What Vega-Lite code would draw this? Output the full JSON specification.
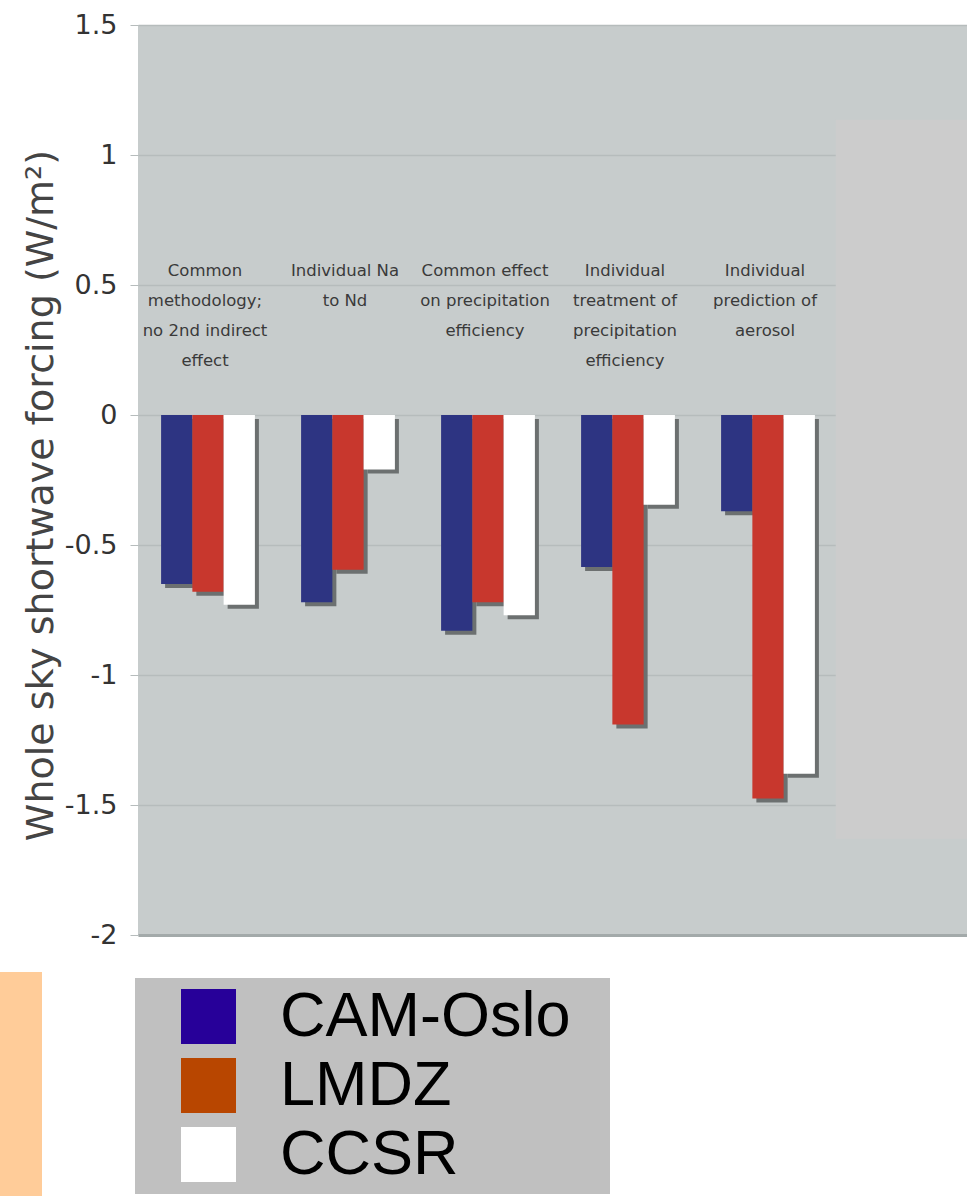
{
  "$schema": "https://vega.github.io/schema/vega-lite/v6.json",
  "width": 840,
  "height": 910,
  "autosize": "none",
  "padding": {"left": 138, "top": 25, "right": -11, "bottom": 261},
  "background": "#ffffff",
  "datasets": {
    "bars": [
      {"group": "g1", "model": "CAM-Oslo", "value": -0.65},
      {"group": "g1", "model": "LMDZ", "value": -0.68},
      {"group": "g1", "model": "CCSR", "value": -0.73},
      {"group": "g2", "model": "CAM-Oslo", "value": -0.72},
      {"group": "g2", "model": "LMDZ", "value": -0.595},
      {"group": "g2", "model": "CCSR", "value": -0.21},
      {"group": "g3", "model": "CAM-Oslo", "value": -0.83},
      {"group": "g3", "model": "LMDZ", "value": -0.72},
      {"group": "g3", "model": "CCSR", "value": -0.77},
      {"group": "g4", "model": "CAM-Oslo", "value": -0.585},
      {"group": "g4", "model": "LMDZ", "value": -1.19},
      {"group": "g4", "model": "CCSR", "value": -0.345},
      {"group": "g5", "model": "CAM-Oslo", "value": -0.37},
      {"group": "g5", "model": "LMDZ", "value": -1.475},
      {"group": "g5", "model": "CCSR", "value": -1.38}
    ],
    "catlabels": [
      {"group": "g1", "label": "Common\nmethodology;\nno 2nd indirect\neffect"},
      {"group": "g2", "label": "Individual Na\nto Nd"},
      {"group": "g3", "label": "Common effect\non precipitation\nefficiency"},
      {"group": "g4", "label": "Individual\ntreatment of\nprecipitation\nefficiency"},
      {"group": "g5", "label": "Individual\nprediction of\naerosol"}
    ]
  },
  "layer": [
    {
      "data": {"name": "bars"},
      "mark": {"type": "bar", "color": "#6c7070", "yOffset": 4},
      "encoding": {
        "x": {"field": "group", "type": "nominal", "scale": {"domain": ["g1", "g2", "g3", "g4", "g5", "g6"], "paddingInner": 0.33, "paddingOuter": 0.165}, "title": null},
        "xOffset": {"field": "model", "type": "nominal", "sort": ["CAM-Oslo", "LMDZ", "CCSR"], "scale": {"range": [4, 97.8]}},
        "y": {
          "field": "value",
          "type": "quantitative",
          "scale": {"domain": [-2, 1.5], "nice": false, "zero": false},
          "title": "Whole sky shortwave forcing (W/m²)",
          "axis": {
            "values": [-2, -1.5, -1, -0.5, 0, 0.5, 1, 1.5],
            "labelExpr": "'' + datum.value"
          }
        }
      }
    },
    {
      "data": {"name": "bars"},
      "mark": {"type": "bar"},
      "encoding": {
        "x": {"field": "group", "type": "nominal", "title": null},
        "xOffset": {"field": "model", "type": "nominal", "sort": ["CAM-Oslo", "LMDZ", "CCSR"]},
        "y": {"field": "value", "type": "quantitative", "title": "Whole sky shortwave forcing (W/m²)"},
        "color": {
          "field": "model",
          "type": "nominal",
          "scale": {"domain": ["CAM-Oslo", "LMDZ", "CCSR"], "range": ["#2d3482", "#c8372d", "#ffffff"]},
          "legend": null
        }
      }
    },
    {
      "data": {"values": [{"k": 1}]},
      "mark": {"type": "rect", "color": "#cccccc"},
      "encoding": {
        "x": {"datum": "g6", "type": "nominal", "bandPosition": -0.27},
        "x2": {"datum": "g6", "bandPosition": 1.6},
        "y": {"datum": 1.136, "type": "quantitative"},
        "y2": {"datum": -1.63}
      }
    },
    {
      "data": {"name": "catlabels"},
      "mark": {"type": "text", "align": "center", "baseline": "alphabetic", "font": "DejaVu Sans", "fontSize": 16.5, "color": "#3a3a3a", "lineBreak": "\n", "lineHeight": 30, "dx": -3},
      "encoding": {
        "x": {"field": "group", "type": "nominal", "title": null},
        "y": {"datum": 0.534, "type": "quantitative"},
        "text": {"field": "label", "type": "nominal"}
      }
    },
    {
      "data": {"name": "bars"},
      "mark": {"type": "bar", "opacity": 0},
      "encoding": {
        "x": {"field": "group", "type": "nominal", "title": null},
        "xOffset": {"field": "model", "type": "nominal", "sort": ["CAM-Oslo", "LMDZ", "CCSR"]},
        "y": {"field": "value", "type": "quantitative", "title": "Whole sky shortwave forcing (W/m²)"},
        "color": {
          "field": "model",
          "type": "nominal",
          "scale": {"domain": ["CAM-Oslo", "LMDZ", "CCSR"], "range": ["#270099", "#b84600", "#ffffff"]},
          "legend": {
            "orient": "none",
            "legendX": -3,
            "legendY": 953,
            "title": "\u00a0",
            "titleOrient": "right",
            "titlePadding": 32,
            "titleFontSize": 8,
            "fillColor": "#c0c0c0",
            "padding": 7,
            "symbolType": "square",
            "symbolSize": 3025,
            "symbolOffset": 35,
            "symbolOpacity": 1,
            "symbolStrokeWidth": 0,
            "labelOffset": 40,
            "labelFont": "Liberation Sans",
            "labelFontSize": 63,
            "labelColor": "#000000",
            "labelLimit": 500,
            "rowPadding": 5
          }
        }
      }
    },
    {
      "data": {"values": [{"k": "strip"}]},
      "mark": {"type": "point", "opacity": 0, "filled": true, "color": "#ffcc99"},
      "encoding": {
        "x": {"datum": "g1", "type": "nominal"},
        "y": {"datum": 0, "type": "quantitative"},
        "shape": {
          "field": "k",
          "type": "nominal",
          "scale": {"range": ["M-0.175,-1H0.175V1H-0.175Z"]},
          "legend": {
            "orient": "none",
            "legendX": -237,
            "legendY": 947,
            "title": null,
            "padding": 0,
            "symbolSize": 57600,
            "symbolFillColor": "#ffcc99",
            "symbolStrokeWidth": 0,
            "symbolOpacity": 1,
            "labelExpr": "''",
            "labelOffset": 0,
            "labelFontSize": 1
          }
        }
      }
    }
  ],
  "resolve": {"scale": {"color": "independent", "xOffset": "independent"}, "legend": {"color": "independent"}},
  "config": {
    "view": {"fill": "#c7cccc", "stroke": null},
    "axisX": {"labels": false, "ticks": false, "title": null, "domain": true, "domainColor": "#a3aaaa", "domainWidth": 3, "grid": false},
    "axisY": {
      "labelFont": "DejaVu Sans",
      "labelFontSize": 27,
      "labelColor": "#333333",
      "labelPadding": 13,
      "tickSize": 8,
      "tickColor": "#b6bcbc",
      "domain": false,
      "grid": true,
      "gridColor": "#b6bcbc",
      "gridWidth": 1.5,
      "titleFont": "DejaVu Sans",
      "titleFontSize": 38,
      "titleFontWeight": "normal",
      "titleColor": "#444444",
      "titleX": -86,
      "titleY": 470,
      "titleAlign": "center",
      "titleBaseline": "alphabetic",
      "titleAngle": -90
    }
  }
}
